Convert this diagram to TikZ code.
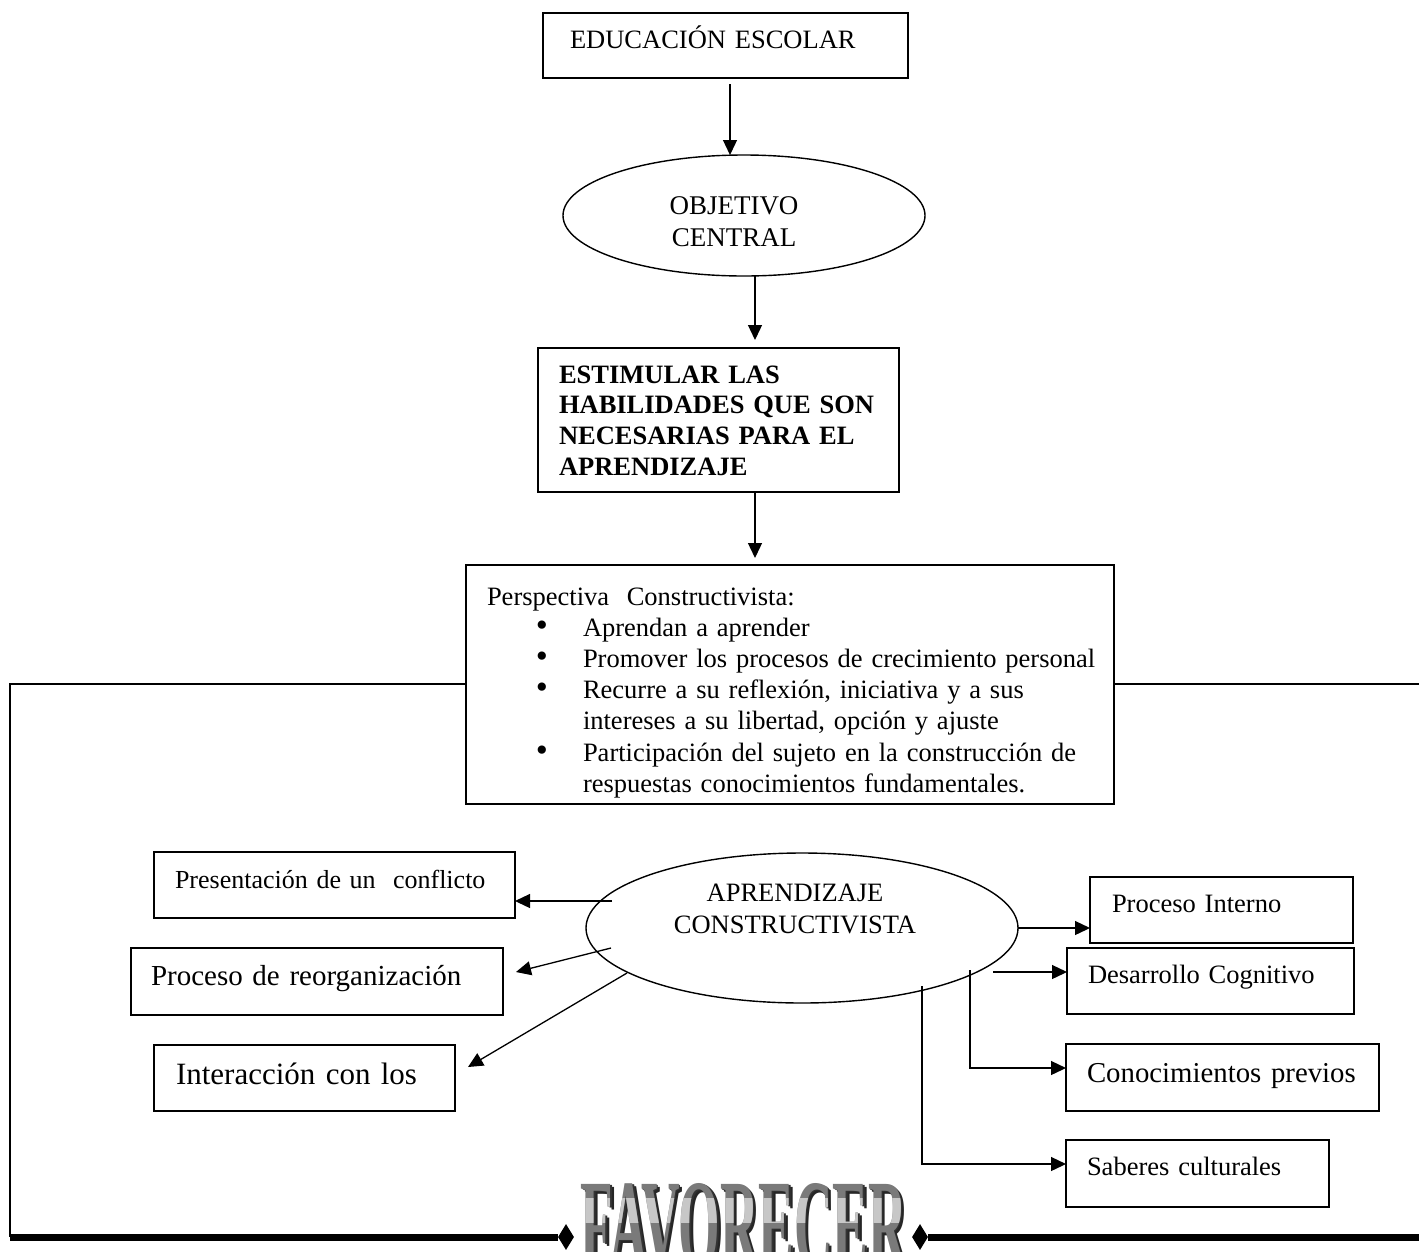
\documentclass[tikz,border=0pt]{standalone}
\usepackage{fontspec}
\setmainfont{Liberation Serif}
\usepackage{graphicx}
\usetikzlibrary{arrows.meta,shapes.geometric,calc}
\newcommand{\favword}{\resizebox{326pt}{85pt}{FAVORECER}}
\newcommand{\bul}{\hspace*{55pt}\makebox[0pt]{\smash{\scalebox{1.3}{\textbullet}}}\hspace*{41pt}}
\begin{document}
\begin{tikzpicture}[x=1pt,y=-1pt,
  bx/.style={draw, line width=1.6pt, rectangle, anchor=north west, inner ysep=0pt, outer sep=0pt, align=left},
  f/.style={font=\fontsize{26.5}{31}\selectfont},
  arr/.style={line width=1.3pt, -{Triangle[length=15pt,width=14pt]}},
  ln/.style={line width=1.4pt},
  ell/.style={draw, ellipse, line width=1.4pt, inner sep=0pt, outer sep=0pt},
  etxt/.style={anchor=north, align=center, inner sep=0pt},
  dia/.style={diamond, fill=black, inner sep=0pt, minimum width=16pt, minimum height=26pt},
  fav/.style={anchor=north, inner sep=0pt, font=\bfseries}
]
\useasboundingbox (0,0) rectangle (1419,1251);
\clip (0,0) rectangle (1419,1251);
\fill[white] (0,0) rectangle (1419,1251);

% top chain
\node[bx, f, inner xsep=27pt, text width=311pt, text height=35pt, text depth=30pt] (edu) at (543,13) {EDUCACIÓN ESCOLAR};
\node[ell, minimum width=362pt, minimum height=121pt] (obj) at (744,215.5) {};
\node[etxt, font=\fontsize{27}{32}\selectfont] (objt) at (734,196) {OBJETIVO\\CENTRAL};
\node[bx, font=\fontsize{26.5}{30.7}\selectfont\bfseries, inner xsep=21pt, text width=319pt, text height=35pt, text depth=109pt] (est) at (538,348)
  {ESTIMULAR LAS\\HABILIDADES QUE SON\\NECESARIAS PARA EL\\APRENDIZAJE};
\node[bx, font=\fontsize{26.5}{31.2}\selectfont, inner xsep=21pt, text width=606pt, text height=40pt, text depth=199pt] (persp) at (466,565)
  {\mbox{Perspectiva\ \ Constructivista:}\\
   \mbox{\bul Aprendan a aprender}\\
   \mbox{\bul Promover los procesos de crecimiento personal}\\
   \mbox{\bul Recurre a su reflexión, iniciativa y a sus}\\
   \mbox{\hspace*{96pt}intereses a su libertad, opción y ajuste}\\
   \mbox{\bul Participación del sujeto en la construcción de}\\
   \mbox{\hspace*{96pt}respuestas conocimientos fundamentales.}};

\coordinate (cx) at (730,0);
\coordinate (cx2) at (755,0);
\draw[arr] ($(edu.south -| cx)+(0,6)$) -- (obj.north -| cx);
\draw[arr] (obj.south -| cx2) -- ($(est.north -| cx2)+(0,-8)$);
\draw[arr] (est.south -| cx2) -- ($(persp.north -| cx2)+(0,-7)$);

% frame
\coordinate (fy) at (0,684);
\coordinate (fl) at (10,684);
\coordinate (fb) at (10,1237);
\coordinate (fr) at (1419,684);
\coordinate (br) at (1419,1237);
\draw[ln] (persp.west |- fy) -- (fl) -- (fb);
\draw[ln] (persp.east |- fy) -- (fr);

% central ellipse
\node[ell, minimum width=432pt, minimum height=150pt] (ap) at (802,928) {};
\node[etxt, font=\fontsize{26.5}{32}\selectfont] (apt) at (795,883.5) {APRENDIZAJE\\CONSTRUCTIVISTA};

% left boxes
\node[bx, font=\fontsize{26}{30}\selectfont, inner xsep=21pt, text width=319pt, text height=36pt, text depth=30pt] (pres) at (154,852) {\mbox{Presentación de un\ \ conflicto}};
\node[bx, font=\fontsize{29}{34}\selectfont, inner xsep=20pt, text width=332pt, text height=37pt, text depth=30pt] (reorg) at (131,948) {\mbox{Proceso de reorganización}};
\node[bx, font=\fontsize{31}{35}\selectfont, inner xsep=22pt, text width=257pt, text height=39pt, text depth=27pt] (inter) at (154,1045) {\mbox{Interacción con los}};

% right boxes
\node[bx, f, inner xsep=22pt, text width=219pt, text height=35pt, text depth=31pt] (pint) at (1090,877) {\mbox{Proceso Interno}};
\node[bx, f, inner xsep=21pt, text width=245pt, text height=35pt, text depth=31pt] (desa) at (1067,948) {\mbox{Desarrollo Cognitivo}};
\node[bx, font=\fontsize{28.8}{32}\selectfont, inner xsep=21pt, text width=271pt, text height=38pt, text depth=29pt] (cono) at (1066,1044) {\mbox{Conocimientos previos}};
\node[bx, f, inner xsep=21pt, text width=221pt, text height=35pt, text depth=32pt] (sab) at (1066,1140) {\mbox{Saberes culturales}};

% connectors from the ellipse
\coordinate (s1) at (612,901);
\coordinate (s2) at (611,948);
\coordinate (s3) at (627,973);
\coordinate (s5) at (993,972);
\coordinate (s6) at (970,970);
\coordinate (s7) at (922,986);
\draw[arr] (s1) -- (s1 -| pres.east);
\draw[arr] (s2) -- ($(reorg.east)+(13,-9.5)$);
\draw[arr] (s3) -- ($(inter.east)+(13,-11)$);
\draw[arr] (ap.east) -- (ap.east -| pint.west);
\draw[arr] (s5) -- (s5 -| desa.west);
\draw[arr] (s6) |- ($(cono.west)+(0,-9.5)$);
\draw[arr] (s7) |- ($(sab.west)+(0,-9.5)$);

% bottom bar
\node[dia] (dl) at (566,1237) {};
\node[dia] (dr) at (920,1237) {};
\draw[line width=7pt] (fb) -- (dl.west);
\draw[line width=7pt] (dr.east) -- (br);

% FAVORECER (metallic word art: extrusion, face, light band)
\node[fav, text=black!85] (favx) at (747.5,1186.5) {\favword};
\node[fav, text=black!80] (favy) at (745.5,1184.5) {\favword};
\node[fav, text=black!52] (fav) at (744,1183) {\favword};
\begin{scope}
  \clip (560,1198) rectangle (930,1222);
  \node[fav, text=black!22] (favh) at (744,1183) {\favword};
\end{scope}
\end{tikzpicture}
\end{document}
